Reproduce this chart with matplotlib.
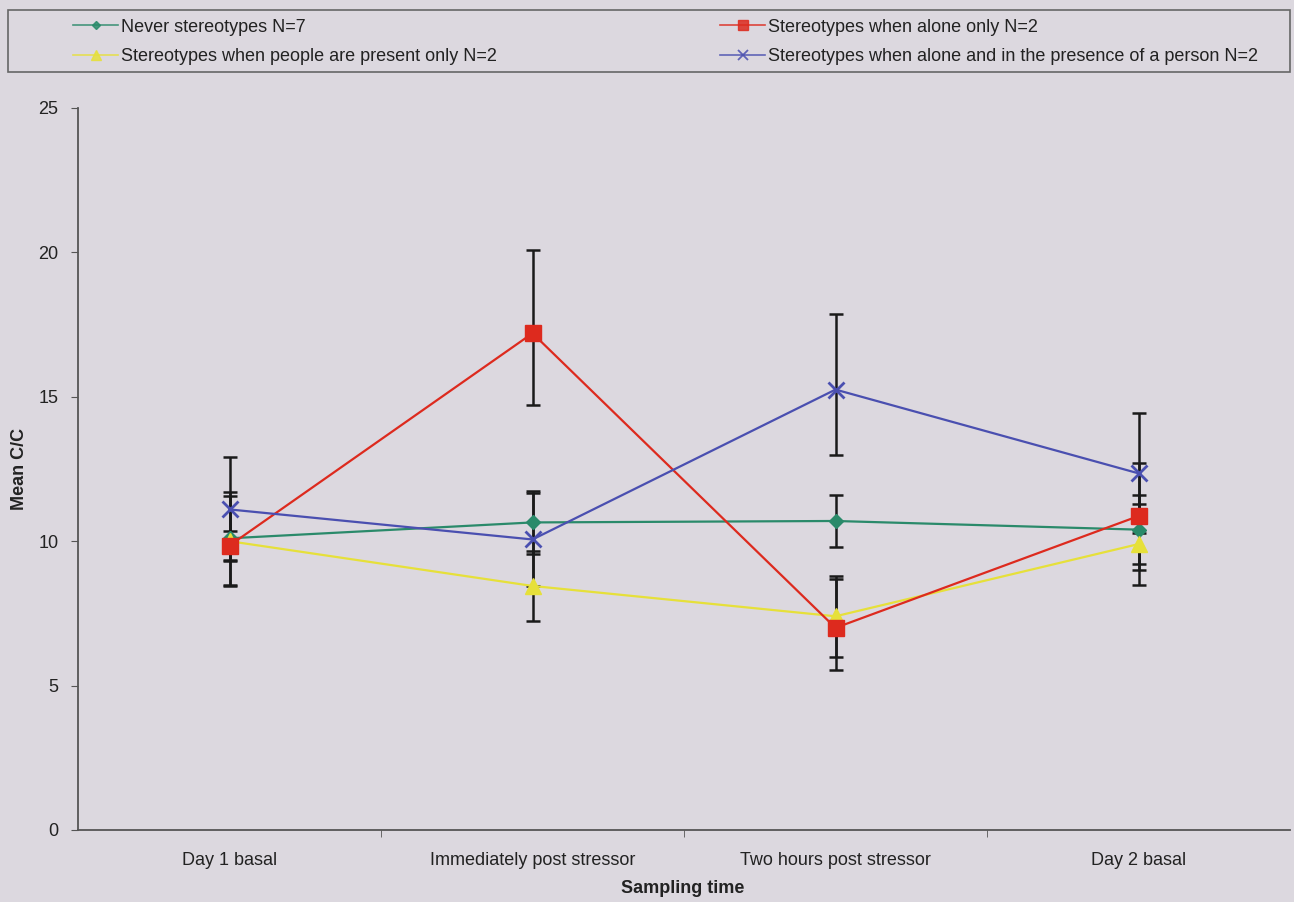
import matplotlib
matplotlib.use("Agg")
import matplotlib.pyplot as plt
from matplotlib.lines import Line2D
from matplotlib.patches import Rectangle

plt.rcParams['font.family'] = ['Liberation Sans', 'DejaVu Sans']

categories = ["Day 1 basal", "Immediately post stressor", "Two hours post stressor", "Day 2 basal"]

labels = ["Never stereotypes N=7",
          "Stereotypes when people are present only N=2",
          "Stereotypes when alone only N=2",
          "Stereotypes when alone and in the presence of a person N=2"]

never_mean = [10.1, 10.65, 10.7, 10.4]
never_err_lo = [1.6, 1.1, 0.9, 1.2]
never_err_hi = [1.6, 1.1, 0.9, 1.2]

people_mean = [10.0, 8.45, 7.4, 9.9]
people_err_lo = [1.55, 1.2, 1.4, 1.4]
people_err_hi = [1.55, 1.2, 1.4, 1.4]

alone_mean = [9.85, 17.2, 7.0, 10.87]
alone_err_lo = [0.5, 2.5, 1.46, 1.85]
alone_err_hi = [0.5, 2.9, 1.68, 1.85]

both_mean = [11.1, 10.06, 15.25, 12.35]
both_err_lo = [1.8, 1.6, 2.25, 2.08]
both_err_hi = [1.83, 1.6, 2.6, 2.08]

yticks = [0, 5, 10, 15, 20, 25]

bg = '#dcd8df'
fig = plt.figure(figsize=(12.94, 9.02), dpi=100, facecolor=bg)
ax = fig.add_axes([78/1294, 1-830/902, (1290-78)/1294, (830-108)/902])
ax.set_facecolor(bg)

x = list(range(len(categories)))

series = [
    (never_mean, never_err_lo, never_err_hi, '#2a8a6a', 'D', 7, labels[0]),
    (people_mean, people_err_lo, people_err_hi, '#e6e03a', '^', 12, labels[1]),
    (alone_mean, alone_err_lo, alone_err_hi, '#dd2a1e', 's', 12, labels[2]),
    (both_mean, both_err_lo, both_err_hi, '#4a4fb0', 'x', 11, labels[3]),
]

handles = []
for mean, lo, hi, col, mk, ms, lab in series:
    ax.errorbar(x, mean, yerr=[lo, hi], fmt='none', ecolor='#1a1a1a',
                elinewidth=1.8, capsize=5, capthick=1.8, zorder=2)
for mean, lo, hi, col, mk, ms, lab in series:
    mew = 2 if mk == 'x' else 1
    ax.plot(x, mean, color=col, lw=1.6, zorder=3)
    ax.plot(x, mean, ls='none', marker=mk, ms=ms, color=col, mec=col, mew=mew, zorder=4)
    handles.append(Line2D([], [], color=col, lw=1.2, alpha=0.85, marker=mk,
                          ms=ms * 0.6, mec=col, mew=1.3 if mk == 'x' else 1, label=lab))

ax.set_xlim(-0.5, 3.5)
ax.set_ylim(0, 25)
ax.set_yticks(yticks)
ax.set_yticklabels([str(t) for t in yticks], fontsize=13, color='#222222')
ax.set_xticks(x)
ax.set_xticklabels(categories, fontsize=13, color='#222222')
ax.set_xticks([0.5, 1.5, 2.5], minor=True)
ax.tick_params(axis='x', which='major', length=0, pad=16)
ax.tick_params(axis='x', which='minor', length=5, direction='out', color='#555555')
ax.tick_params(axis='y', which='major', length=5, direction='out', color='#555555', pad=9)
for s in ['top', 'right']:
    ax.spines[s].set_visible(False)
for s in ['left', 'bottom']:
    ax.spines[s].set_color('#555555')
    ax.spines[s].set_linewidth(1.3)

ax.set_xlabel("Sampling time", fontsize=13, fontweight='bold', color='#222222')
ax.xaxis.set_label_coords((683-78)/1212, -(880-830)/722, transform=ax.transAxes)
ax.set_ylabel("Mean C/C", fontsize=13, fontweight='bold', color='#222222')
ax.yaxis.set_label_coords(-(78-28)/1212, 0.5, transform=ax.transAxes)

# Legend frame
fig.patches.append(Rectangle((8/1294, 1-72/902), (1290-8)/1294, (72-10)/902,
                             transform=fig.transFigure, fill=False,
                             edgecolor='#666666', lw=1.2))
legkw = dict(loc='center left', frameon=False, fontsize=13,
             handlelength=2.5, handletextpad=0.15, labelspacing=0.7,
             borderaxespad=0, borderpad=0, labelcolor='#222222')
leg1 = fig.legend(handles=[handles[0], handles[1]],
                  bbox_to_anchor=(73/1294, 1-42/902), **legkw)
leg2 = fig.legend(handles=[handles[2], handles[3]],
                  bbox_to_anchor=(720/1294, 1-42/902), **legkw)

fig.savefig("out.png", dpi=100, facecolor=bg)
